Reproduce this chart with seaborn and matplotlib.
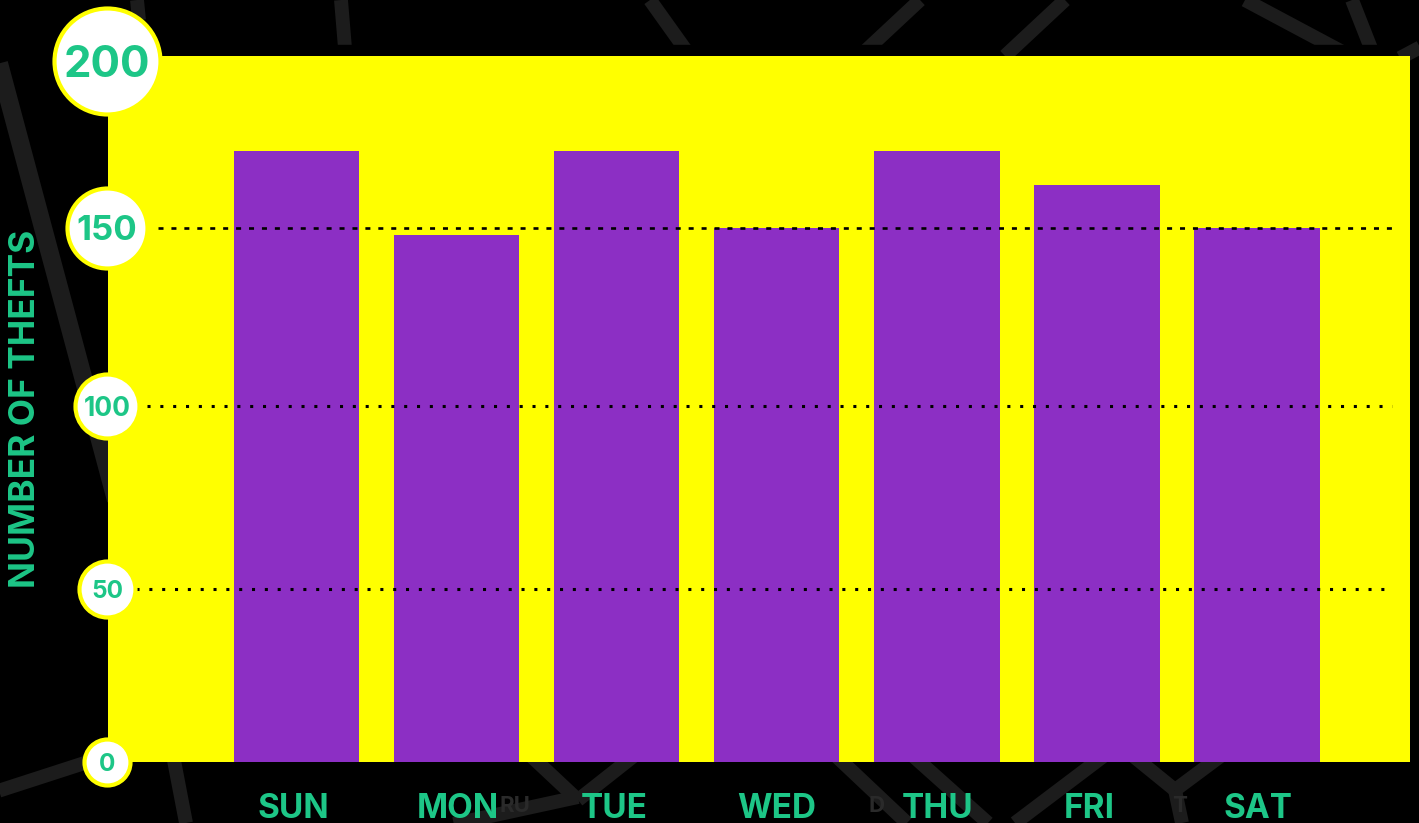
import numpy as np
import matplotlib
matplotlib.use('Agg')
import matplotlib.pyplot as plt
from matplotlib.patches import Rectangle
from matplotlib.transforms import ScaledTranslation
import seaborn as sns

hari = ['SUN', 'MON', 'TUE', 'WED', 'THU', 'FRI', 'SAT']
pencurian = [173, 148, 173, 150, 173, 163, 150]
tick_nilai = [0, 50, 100, 150, 200]
ukuran_bulat = [23, 28, 32, 40, 53]
ukuran_font = [17.5, 17.5, 19, 25, 31.5]

# the original axis is hand spaced, so the scale follows its tick pixels
skala_nilai = [0, 50, 100, 150, 200, 202]
skala_piksel = [762, 589, 406, 228, 61, 56]

# street map behind the chart, x1 y1 x2 y2 in pixels
jalan_atas = [(137, 0, 139, 20), (341, 0, 346, 60), (650, 0, 690, 56),
              (920, 0, 860, 56), (1245, 0, 1350, 56), (1352, 0, 1374, 56)]
jalan_bawah = [(1065, 0, 1005, 56), (1400, 58, 1430, 42), (-5, 792, 100, 758), (172, 750, 186, 823),
               (530, 755, 578, 800), (635, 755, 578, 800), (578, 797, 440, 827), (835, 755, 907, 823),
               (912, 755, 988, 823), (1105, 755, 1015, 823), (1132, 755, 1175, 790), (1222, 755, 1175, 790),
               (1175, 790, 1182, 823)]

HIJAU = '#1DC687'
UNGU = '#8C2FC4'
KUNING = '#FFFF00'
JALAN = '#1C1C1C'

sns.set_theme(style='white')
plt.rcParams['font.family'] = ['Inter', 'DejaVu Sans']

W, H = 1419, 823
fig = plt.figure(figsize=(W / 100, H / 100), dpi=100, facecolor='black')

bg = fig.add_axes([0, 0, 1, 1], zorder=0)
bg.set_xlim(0, W)
bg.set_ylim(H, 0)
bg.axis('off')
bg.plot([-18, 116], [0, 500], color=JALAN, lw=13, solid_capstyle='butt', zorder=1)
for x1, y1, x2, y2 in jalan_atas:
    bg.plot([x1, x2], [y1, y2], color=JALAN, lw=10, solid_capstyle='butt', zorder=1)
bg.add_patch(Rectangle((122, 45), W, 11, color='black', zorder=2))
for x1, y1, x2, y2 in jalan_bawah:
    bg.plot([x1, x2], [y1, y2], color=JALAN, lw=10, solid_capstyle='butt', zorder=3)
for teks, x in [('RU', 515), ('D', 877), ('T', 1180)]:
    bg.text(x, 806, teks, color='#2A2A2A', fontsize=16, fontweight='bold', ha='center', va='center', zorder=4)

ax = fig.add_axes([108 / W, 1 - 762 / H, (1410 - 108) / W, (762 - 56) / H], zorder=1)
ax.set_facecolor(KUNING)
ax.set_yscale('function', functions=(lambda v: -np.interp(v, skala_nilai, skala_piksel),
                                     lambda p: np.interp(-np.asarray(p), skala_piksel[::-1], skala_nilai[::-1])))

sns.barplot(x=hari, y=pencurian, color=UNGU, saturation=1, width=0.784, linewidth=0, ax=ax, zorder=2)

awal = 296.5
step = 160.07
ax.set_xlim((108 - awal) / step, (1410 - awal) / step)
ax.set_ylim(0, 202)

x_bulat = (107 - awal) / step
x_akhir = (1392 - awal) / step
ax.plot([(136 - awal) / step, x_akhir], [50, 50], color='black', lw=2.2, linestyle=(0, (1, 3.2)), zorder=3)
ax.plot([(147 - awal) / step, x_akhir], [100, 100], color='black', lw=2.2, linestyle=(0, (1, 3.2)), zorder=3)
ax.plot([(158 - awal) / step, x_akhir], [150, 150], color='black', lw=1.9, linestyle=(0, (1.9, 3)), zorder=3)

for nilai, r, fs in zip(tick_nilai, ukuran_bulat, ukuran_font):
    ax.scatter([x_bulat], [nilai], s=(2 * r * 0.72) ** 2, color='white', edgecolor=KUNING,
               linewidth=3, clip_on=False, zorder=5)
    ax.text(x_bulat, nilai, str(nilai), color=HIJAU, fontsize=fs, fontweight='bold',
            ha='center', va='center_baseline', clip_on=False, zorder=6)

ax.set_yticks([])
ax.tick_params(axis='x', length=0, pad=22, labelsize=24, labelcolor=HIJAU)
geser_label = [-3, 1, -2, 0, 1, -8, 1]
for lab, dx in zip(ax.get_xticklabels(), geser_label):
    lab.set_fontweight('bold')
    lab.set_transform(lab.get_transform() + ScaledTranslation(dx / 100, 0, fig.dpi_scale_trans))
ax.set_xlabel('')
ax.set_ylabel('')
sns.despine(ax=ax, left=True, bottom=True)

fig.text(26 / W, 1 - 409 / H, 'NUMBER OF THEFTS', rotation=90, color=HIJAU, fontsize=25.5,
         fontweight='bold', ha='center', va='center')

fig.savefig('out.png', dpi=100, facecolor='black')
